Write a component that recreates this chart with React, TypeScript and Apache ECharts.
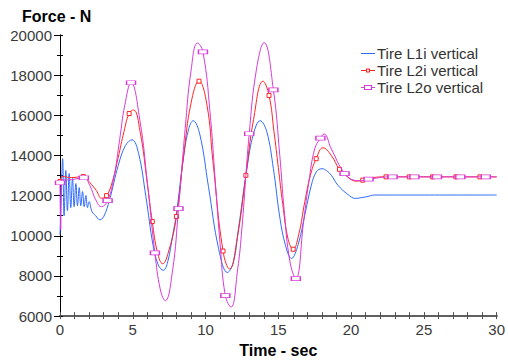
import React, { useEffect, useRef } from "react";
import * as echarts from "echarts";

// ---- Data (time in s, force in N) ----
const seriesNames = ["Tire L1i vertical", "Tire L2i vertical", "Tire L2o vertical"];

const l1iCurve: [number, number][] = [
  [0, 10050], [0.1, 12400], [0.18, 13840], [0.28, 11000], [0.4, 13250], [0.51, 11250],
  [0.63, 13100], [0.74, 11400], [0.86, 12850], [0.97, 11450], [1.09, 12600], [1.2, 11500],
  [1.32, 12400], [1.43, 11500], [1.55, 12200], [1.66, 11450], [1.78, 12000], [1.89, 11400],
  [2.0, 11700], [2.2, 11200], [2.45, 11000], [2.73, 10800], [3.0, 10950], [3.4, 11780],
  [4.0, 13500], [4.5, 14500], [4.95, 14780], [5.4, 14100], [5.9, 11950], [6.4, 9500],
  [6.75, 8550], [7.1, 8280], [7.4, 8700], [7.75, 10060], [8.0, 11100], [8.5, 14000],
  [8.85, 15340], [9.15, 15730], [9.6, 15070], [10.2, 12450], [10.9, 9350], [11.5, 8170],
  [11.9, 8650], [12.27, 10390], [12.84, 13345], [13.3, 15100], [13.75, 15730], [14.2, 15200],
  [14.66, 13345], [15.11, 10880], [15.5, 9500], [15.9, 8870], [16.36, 9560], [16.82, 11040],
  [17.27, 12520], [17.61, 13180], [18.0, 13340], [18.3, 13250], [18.64, 13015], [19.09, 12520],
  [19.77, 12065], [20.3, 11860], [20.7, 11900], [21.1, 11950], [21.6, 12030], [30, 12030],
];

const l2iCurve: [number, number][] = [
  [0.15, 12950], [0.8, 12900], [2.0, 12690], [2.5, 12250], [2.85, 11870], [3.6, 12700],
  [4.0, 13900], [4.4, 15200], [5.05, 16270], [5.5, 15200], [6.0, 12600], [6.7, 9160],
  [7.05, 8610], [7.5, 9320], [8.5, 14000], [9.0, 16600], [10.1, 16500],
  [10.5, 13750], [11.65, 8350], [12.2, 10000], [13.3, 15800], [13.95, 17700],
  [14.7, 15200], [15.0, 13400], [15.3, 11600], [15.68, 9810], [16.4, 10060], [16.82, 11700],
  [17.2, 13000], [18.07, 14380], [18.64, 14000], [19.77, 12935], [20.34, 12720],
  [21.5, 12900], [30, 12935],
];
const l2iMarkers: [number, number][] = [
  [0, 12700], [1.6, 12950], [3.2, 12000], [4.75, 16090], [6.34, 10710], [8.0, 10960],
  [9.55, 17700], [11.2, 9240], [12.77, 13010], [14.36, 16990], [16.02, 9330], [17.6, 13840],
  [19.2, 13310], [20.8, 12770], [22.4, 12935], [24.0, 12935], [25.6, 12935], [27.2, 12935],
  [28.85, 12935],
];

const l2oCurve: [number, number][] = [
  [0.05, 10300], [0.12, 12750], [0.8, 12800], [2.05, 12500], [2.45, 11800], [2.84, 11450],
  [3.7, 12900], [4.1, 14800], [4.45, 16500], [5.5, 15700], [6.0, 12650],
  [6.9, 7300], [7.23, 6770], [7.73, 8250], [8.6, 15330], [9.0, 18200],
  [9.45, 19600], [10.3, 16200], [10.7, 12400], [11.0, 9600], [11.75, 6450], [12.2, 8300],
  [12.5, 10390], [13.5, 18300], [14.02, 19620], [15.1, 14000], [15.4, 11300], [15.8, 8700],
  [16.75, 10800], [17.1, 12700], [17.5, 14330], [18.14, 15070], [18.64, 14330],
  [20.2, 12770], [20.68, 12740], [30, 12935],
];
const l2oMarkers: [number, number][] = [
  [0, 12640], [1.64, 12890], [3.27, 11750], [4.88, 17620], [6.52, 9150], [8.14, 11350],
  [9.82, 19160], [11.36, 7020], [13.0, 15080], [14.66, 17270], [16.2, 7870], [17.89, 14860],
  [19.55, 13100], [21.2, 12820], [22.85, 12935], [24.35, 12935], [25.9, 12935], [27.5, 12935],
  [29.25, 12935],
];

const xTicks = { min: 0, max: 30, interval: 5 };
const yTicks = { min: 6000, max: 20000, interval: 2000 };

const colors = ["#2f6bff", "#ff2424", "#d83ad8"];
const FONT = "Liberation Sans, Arial, sans-serif";

// legend icons (line + hollow marker), drawn as filled paths with holes
const iconBlue = "path://M0,2.5H14V3.5H0Z";
const iconRed = "path://M0,2.5H5V3.5H0Z M9,2.5H14V3.5H9Z M5,1H9V5H5Z M6,2V4H8V2Z";
const iconMag = "path://M0,2.5H3V3.5H0Z M11,2.5H14V3.5H11Z M3,0.5H11V5.5H3Z M4,1.5V4.5H10V1.5Z";

function buildData(curve: [number, number][], markers: [number, number][]) {
  const items = [
    ...curve.map((p) => ({ value: p, marker: false })),
    ...markers.map((p) => ({ value: p, marker: true })),
  ];
  items.sort((a, b) => a.value[0] - b.value[0]);
  return items.map((it) => (it.marker ? { value: it.value } : { value: it.value, symbol: "none" }));
}

export default function App() {
  const ref = useRef<HTMLDivElement>(null);
  useEffect(() => {
    if (!ref.current) return;
    const chart = echarts.init(ref.current, undefined, { renderer: "svg" });
    const axisLabel = { color: "#3a3a3a", fontSize: 15, fontFamily: FONT };
    chart.setOption({
      animation: false,
      backgroundColor: "#ffffff",
      grid: { left: 60, right: 8, top: 35, bottom: 44, containLabel: false },
      graphic: [
        {
          type: "text",
          left: 22,
          top: 8,
          style: { text: "Force - N", font: `bold 16px ${FONT}`, fill: "#000" },
        },
      ],
      legend: {
        orient: "vertical",
        left: 356,
        top: 41,
        itemWidth: 14,
        itemHeight: 6,
        itemGap: 2,
        textStyle: { fontSize: 15, fontFamily: FONT, color: "#333", lineHeight: 15, padding: [0, 0, 0, -3] },
        data: [
          { name: seriesNames[0], icon: iconBlue, itemStyle: { color: colors[0], borderWidth: 0, opacity: 1 } },
          { name: seriesNames[1], icon: iconRed, itemStyle: { color: colors[1], borderWidth: 0 } },
          { name: seriesNames[2], icon: iconMag, itemStyle: { color: colors[2], borderWidth: 0 } },
        ],
      },
      xAxis: [
        {
          type: "value",
          ...xTicks,
          name: "Time - sec",
          nameLocation: "middle",
          nameGap: 22,
          nameTextStyle: { fontSize: 16, fontWeight: "bold", fontFamily: FONT, color: "#000" },
          axisLine: { onZero: false, lineStyle: { color: "#606060", width: 2 } },
          axisTick: { show: true, length: 3, lineStyle: { color: "#505050" } },
          minorTick: { show: true, splitNumber: 5, length: 3, lineStyle: { color: "#505050" } },
          axisLabel: { ...axisLabel, margin: 6 },
          splitLine: { show: false },
        },
        {
          type: "value",
          ...xTicks,
          position: "bottom",
          axisLine: { onZero: false, lineStyle: { color: "#606060", width: 2 } },
          axisTick: { show: true, inside: true, length: 4, lineStyle: { color: "#505050" } },
          minorTick: { show: true, splitNumber: 5, length: 4, lineStyle: { color: "#505050" } },
          axisLabel: { show: false },
          splitLine: { show: false },
        },
      ],
      yAxis: [
        {
          type: "value",
          ...yTicks,
          axisLine: { show: true, onZero: false, lineStyle: { color: "#000", width: 1 } },
          axisTick: { show: true, length: 6, lineStyle: { color: "#000" } },
          minorTick: { show: true, splitNumber: 2, length: 3, lineStyle: { color: "#000" } },
          axisLabel: { ...axisLabel, margin: 8, formatter: (v: number) => String(v) },
          splitLine: { show: false },
        },
        {
          type: "value",
          ...yTicks,
          position: "left",
          axisLine: { show: true, onZero: false, lineStyle: { color: "#000", width: 1 } },
          axisTick: { show: true, inside: true, length: 3, lineStyle: { color: "#000" } },
          minorTick: { show: true, splitNumber: 2, length: 3, lineStyle: { color: "#000" } },
          axisLabel: { show: false },
          splitLine: { show: false },
        },
      ],
      series: [
        {
          name: seriesNames[0],
          type: "line",
          color: colors[0],
          data: l1iCurve.map((p) => p),
          showSymbol: false,
          symbol: "none",
          smooth: 0.4,
          lineStyle: { width: 1, color: colors[0] },
          z: 2,
        },
        {
          name: seriesNames[1],
          type: "line",
          color: colors[1],
          data: buildData(l2iCurve, l2iMarkers),
          showSymbol: true,
          showAllSymbol: true,
          symbol: "rect",
          symbolSize: [4, 4],
          smooth: 0.45,
          lineStyle: { width: 1, color: colors[1] },
          itemStyle: { color: "#ffffff", borderColor: colors[1], borderWidth: 1 },
          z: 3,
        },
        {
          name: seriesNames[2],
          type: "line",
          color: colors[2],
          data: buildData(l2oCurve, l2oMarkers),
          showSymbol: true,
          showAllSymbol: true,
          symbol: "rect",
          symbolSize: [9, 4],
          smooth: 0.45,
          lineStyle: { width: 1, color: colors[2] },
          itemStyle: { color: "#ffffff", borderColor: colors[2], borderWidth: 1 },
          z: 4,
        },
      ],
    });
    return () => chart.dispose();
  }, []);
  return (
    <div
      ref={ref}
      style={{ position: "fixed", left: 0, top: 0, width: 508, height: 363, background: "#fff" }}
    />
  );
}
